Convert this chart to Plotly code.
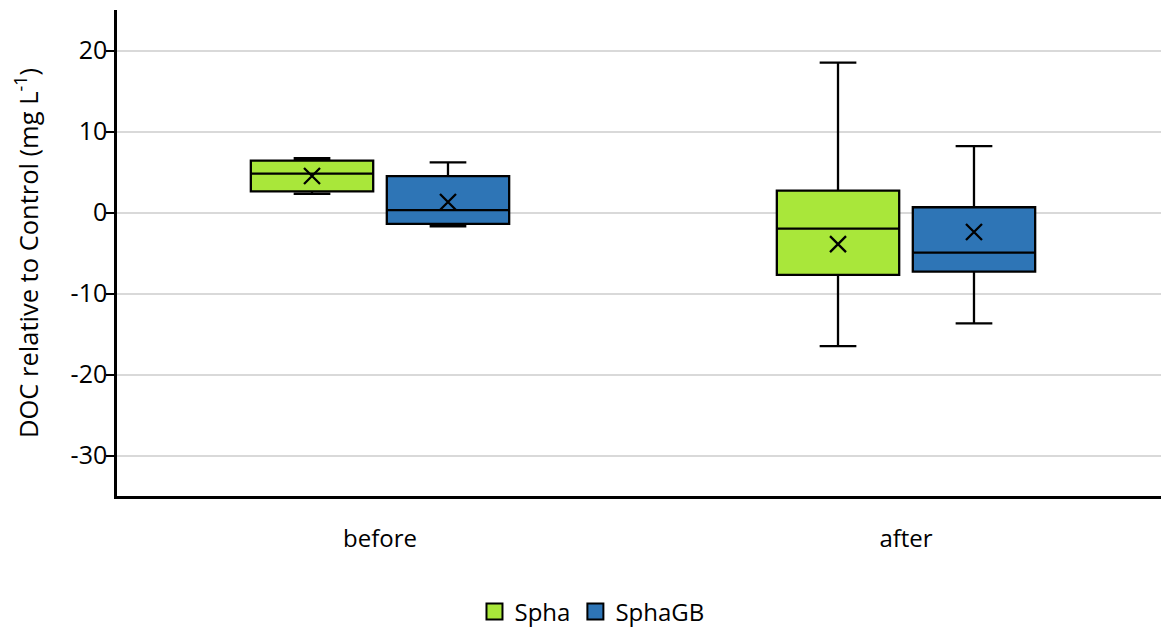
import plotly.graph_objects as go

categories = ["before", "after"]
series_names = ["Spha", "SphaGB"]
colors = ["#A9E73A", "#2E75B6"]

spha_q1 = [2.6, -7.7]
spha_median = [4.8, -2.0]
spha_q3 = [6.4, 2.7]
spha_low = [2.3, -16.5]
spha_high = [6.7, 18.5]
spha_mean = [4.5, -3.9]

sphagb_q1 = [-1.4, -7.3]
sphagb_median = [0.3, -4.95]
sphagb_q3 = [4.5, 0.65]
sphagb_low = [-1.7, -13.7]
sphagb_high = [6.2, 8.2]
sphagb_mean = [1.3, -2.4]

y_tickvals = [-30, -20, -10, 0, 10, 20]
y_ticktext = ["-30", "-20", "-10", "0", "10", "20"]

stats = [
    (spha_q1, spha_median, spha_q3, spha_low, spha_high, spha_mean),
    (sphagb_q1, sphagb_median, sphagb_q3, sphagb_low, sphagb_high, sphagb_mean),
]

font_family = "'Open Sans', sans-serif"
fig = go.Figure()

for name, color, (q1, med, q3, lo, hi, mn) in zip(series_names, colors, stats):
    fig.add_trace(go.Box(
        name=name, x=categories, q1=q1, median=med, q3=q3,
        lowerfence=lo, upperfence=hi,
        fillcolor=color, line=dict(color="black", width=2.3),
        whiskerwidth=0.3, boxpoints=False, offsetgroup=name,
        legendgroup=name, showlegend=False, hoverinfo="skip",
    ))

for name, (q1, med, q3, lo, hi, mn) in zip(series_names, stats):
    fig.add_trace(go.Scatter(
        name=name + " mean", x=categories, y=mn, mode="markers",
        marker=dict(symbol="x-thin-open", size=16, line=dict(color="black", width=2.3), color="black"),
        offsetgroup=name, showlegend=False, hoverinfo="skip",
    ))

# legend entries (square swatches)
for name, color in zip(series_names, colors):
    fig.add_trace(go.Scatter(
        name=name, x=[None], y=[None], mode="markers", legendgroup=name,
        marker=dict(symbol="square", size=16, color=color, line=dict(color="black", width=2)),
        showlegend=True, hoverinfo="skip",
    ))

fig.update_layout(
    width=1161, height=620,
    margin=dict(l=109, r=0, t=2, b=132),
    paper_bgcolor="white", plot_bgcolor="white",
    boxmode="group", boxgap=0.483, boxgroupgap=0.1,
    scattermode="group", scattergap=0.483,
    font=dict(family=font_family, size=24, color="black"),
    showlegend=True,
    legend=dict(orientation="h", xref="container", yref="container",
                x=0.503, y=0.026, xanchor="center", yanchor="middle",
                font=dict(size=24), itemwidth=30, traceorder="normal",
                itemsizing="trace"),
)

fig.update_xaxes(
    type="category", range=[-0.5, 1.5],
    showline=True, linecolor="black", linewidth=3,
    ticks="", showgrid=False, ticklabelstandoff=19,
    tickfont=dict(size=24),
)
fig.update_yaxes(
    range=[-35, 25], tickvals=y_tickvals, ticktext=y_ticktext,
    showline=True, linecolor="black", linewidth=2.5,
    ticks="outside", ticklen=8, tickwidth=2, tickcolor="black",
    showgrid=True, gridcolor="#D9D9D9", gridwidth=1.5,
    zeroline=False, automargin=False, ticklabelstandoff=-6,
    tickfont=dict(size=25),
    title=dict(text="DOC relative to Control (mg L<sup>-1</sup>)", font=dict(size=25.5), standoff=28),
)

fig.write_html("out.html")
